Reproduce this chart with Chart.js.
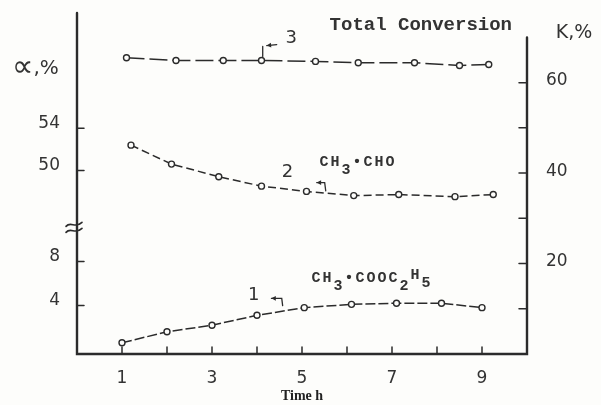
<!DOCTYPE html>
<html><head><meta charset="utf-8">
<script src="https://cdn.jsdelivr.net/npm/chart.js@4/dist/chart.umd.min.js"></script>
<style>html,body{margin:0;padding:0;background:#fdfdfb;}canvas{display:block}</style>
</head><body>
<canvas id="c" width="601" height="405"></canvas>
<script>
// ---- tick definitions ----
const timeTicks = [1, 2, 3, 4, 5, 6, 7, 8, 9];
const timeTickLabels = ['1', '', '3', '', '5', '', '7', '', '9'];
const alphaTicks = [4, 8, 50, 54];
const alphaTickLabels = ['4', '8', '50', '54'];
const convTicks = [10, 20, 30, 40, 50, 60];
const convTickLabels = ['', '20', '', '40', '', '60'];

// ---- series ----
// 1: CH3•COOC2H5, alpha %
const timeS1 = [1, 2, 3, 4, 5.05, 6.1, 7.1, 8.1, 9];
const alphaS1 = [0.6, 1.6, 2.2, 3.1, 3.8, 4.1, 4.2, 4.2, 3.8];
// 2: CH3•CHO, alpha %
const timeS2 = [1.2, 2.1, 3.15, 4.1, 5.1, 6.15, 7.15, 8.4, 9.25];
const alphaS2 = [52.4, 50.6, 49.4, 48.5, 48.0, 47.6, 47.7, 47.5, 47.7];
// 3: Total conversion, K %
const timeS3 = [1.1, 2.2, 3.25, 4.1, 5.3, 6.25, 7.5, 8.5, 9.15];
const convS3 = [65.5, 64.9, 64.9, 64.9, 64.7, 64.4, 64.4, 63.8, 64.0];

const INK = '#2b2b2b';
const TXT = '#333333';
const AXIS_MAX = 75.4;

// broken alpha axis -> common vertical unit (K scale)
function alphaToAxis(a) { return a < 30 ? 1.02 + 2.43 * a : 40.6 + 2.325 * (a - 50); }

function pts(xs, ys, f) { return xs.map((x, i) => ({ x: x, y: f ? f(ys[i]) : ys[i] })); }

const tickFont = { family: 'DejaVu Sans', size: 17 };

function noPad(s) { s.paddingTop = 0; s.paddingBottom = 0; s.paddingLeft = 0; s.paddingRight = 0; }

const decor = {
  id: 'decor',
  beforeDraw(chart) {
    const c = chart.ctx;
    c.save();
    c.fillStyle = '#fdfdfb';
    c.fillRect(0, 0, chart.width, chart.height);
    c.restore();
  },
  afterDatasetsDraw(chart) {
    const c = chart.ctx;
    const xs = chart.scales.x, yl = chart.scales.yL, yr = chart.scales.yR;
    const a = chart.chartArea;
    const X = v => xs.getPixelForValue(v), Y = v => yr.getPixelForValue(v);
    c.save();
    c.strokeStyle = INK;
    c.lineCap = 'round';
    // axes lines
    c.lineWidth = 2.4;
    c.beginPath();
    c.moveTo(a.left, a.top); c.lineTo(a.left, a.bottom); c.lineTo(a.right, a.bottom);
    c.lineTo(a.right, Y(70));
    c.stroke();
    // inward ticks
    c.lineWidth = 1.5;
    c.beginPath();
    timeTicks.forEach(v => { const p = X(v); c.moveTo(p, a.bottom); c.lineTo(p, a.bottom - 7); });
    alphaTicks.forEach(v => { const p = yl.getPixelForValue(alphaToAxis(v)); c.moveTo(a.left, p); c.lineTo(a.left + 7, p); });
    convTicks.forEach(v => { const p = Y(v); c.moveTo(a.right, p); c.lineTo(a.right - 8, p); });
    c.stroke();
    // axis break symbol
    const bp = Y(28.0);
    c.lineWidth = 1.6;
    [-3, 3].forEach(off => {
      c.beginPath();
      c.moveTo(a.left - 11, bp + off + 2);
      c.bezierCurveTo(a.left - 6, bp + off - 4, a.left - 2, bp + off + 5, a.left + 5, bp + off - 2);
      c.stroke();
    });
    // arrows (in data units)
    function arrow(path) {
      c.beginPath();
      path.forEach((p, i) => { const px = X(p[0]), py = Y(p[1]); if (i) c.lineTo(px, py); else c.moveTo(px, py); });
      c.stroke();
      const p0 = path[0], p1 = path[1];
      const x0 = X(p0[0]), y0 = Y(p0[1]), x1 = X(p1[0]), y1 = Y(p1[1]);
      const ang = Math.atan2(y0 - y1, x0 - x1);
      c.beginPath();
      c.moveTo(x0, y0);
      c.lineTo(x0 - 5 * Math.cos(ang - 0.5), y0 - 5 * Math.sin(ang - 0.5));
      c.lineTo(x0 - 5 * Math.cos(ang + 0.5), y0 - 5 * Math.sin(ang + 0.5));
      c.closePath();
      c.fillStyle = INK; c.fill();
    }
    c.lineWidth = 1.3;
    arrow([[4.216, 68.2], [4.438, 68.4]]);
    c.beginPath(); c.moveTo(X(4.127), Y(65.8)); c.lineTo(X(4.127), Y(68.0)); c.stroke();
    arrow([[5.327, 37.9], [5.504, 37.9], [5.527, 36.1]]);
    arrow([[4.32, 12.3], [4.55, 12.3], [4.57, 10.7]]);

    // texts
    c.fillStyle = TXT;
    c.textBaseline = 'middle';
    function segText(x, y, segs, font, spacing) {
      c.font = font;
      c.letterSpacing = spacing || '0px';
      c.textAlign = 'left';
      let px = X(x);
      const py = Y(y);
      segs.forEach(s => { c.fillText(s[0], px, py + s[1]); px += c.measureText(s[0]).width; });
      c.letterSpacing = '0px';
    }
    c.textAlign = 'center';
    c.font = 'bold 19px "Liberation Mono"';
    c.fillText('Total Conversion', X(7.64), Y(72.6));
    c.font = '18px "DejaVu Sans"';
    c.fillText('3', X(4.76), Y(69.9));
    c.fillText('2', X(4.68), Y(40.2));
    c.fillText('1', X(3.93), Y(12.95));
    const mono = 'bold 15px "Liberation Mono"';
    segText(5.39, 42.4, [['CH', 0], ['3', 8], ['\u2022CHO', 0]], mono, '2px');
    segText(5.21, 16.7, [['CH', 0], ['3', 8], ['\u2022COOC', 0], ['2', 8], ['H', -3], ['5', 5]], mono, '2px');
    // axis unit labels
    c.textAlign = 'left';
    c.font = '30px "DejaVu Sans"';
    const ay = Y(63.2);
    c.fillText('\u221D', 12, ay);
    const aw = c.measureText('\u221D').width;
    c.font = '20px "DejaVu Sans"';
    c.fillText(',%', 12 + aw, ay + 1);
    c.textAlign = 'center';
    c.font = '19px "DejaVu Sans"';
    c.fillText('K,%', a.right + 47, Y(70.9));
    c.restore();
  }
};

const lineBase = {
  type: 'line', borderColor: INK, borderWidth: 1.5, tension: 0,
  pointRadius: 3, pointBorderWidth: 1.4, pointBackgroundColor: '#fdfdfb', pointBorderColor: INK,
  fill: false, clip: false
};

new Chart(document.getElementById('c'), {
  type: 'line',
  data: {
    datasets: [
      Object.assign({}, lineBase, { label: 'CH3•COOC2H5', data: pts(timeS1, alphaS1, alphaToAxis), yAxisID: 'yL', borderDash: [10, 3] }),
      Object.assign({}, lineBase, { label: 'CH3•CHO', data: pts(timeS2, alphaS2, alphaToAxis), yAxisID: 'yL', borderDash: [8, 4] }),
      Object.assign({}, lineBase, { label: 'Total Conversion', data: pts(timeS3, convS3), yAxisID: 'yR', borderDash: [18, 5] })
    ]
  },
  options: {
    responsive: false, animation: false, devicePixelRatio: 1,
    layout: { padding: { top: 13, left: 0, right: 0, bottom: 0 } },
    plugins: { legend: { display: false }, tooltip: { enabled: false } },
    scales: {
      x: {
        type: 'linear', min: 0, max: 10,
        afterBuildTicks: s => { s.ticks = timeTicks.map(v => ({ value: v })); },
        afterFit: s => { s.height = 51; noPad(s); },
        grid: { display: false, drawTicks: false }, border: { display: false },
        ticks: { callback: (v, i) => timeTickLabels[i], font: tickFont, color: TXT, padding: 14, autoSkip: false, maxRotation: 0 },
        title: { display: true, text: 'Time h', color: '#222', font: { family: 'Liberation Serif', size: 14, weight: 'bold' }, padding: 0 }
      },
      yL: {
        type: 'linear', position: 'left', min: 0, max: AXIS_MAX,
        afterBuildTicks: s => { s.ticks = alphaTicks.map(v => ({ value: alphaToAxis(v) })); },
        afterFit: s => { s.width = 77; noPad(s); },
        grid: { display: false, drawTicks: false }, border: { display: false },
        ticks: { callback: (v, i) => alphaTickLabels[i], font: tickFont, color: TXT, padding: 17, labelOffset: -5, autoSkip: false }
      },
      yR: {
        type: 'linear', position: 'right', min: 0, max: AXIS_MAX,
        afterBuildTicks: s => { s.ticks = convTicks.map(v => ({ value: v })); },
        afterFit: s => { s.width = 74; noPad(s); },
        grid: { display: false, drawTicks: false }, border: { display: false },
        ticks: { callback: (v, i) => convTickLabels[i], font: tickFont, color: TXT, padding: 19, labelOffset: -2, autoSkip: false }
      }
    }
  },
  plugins: [decor]
});
</script>
</body></html>
